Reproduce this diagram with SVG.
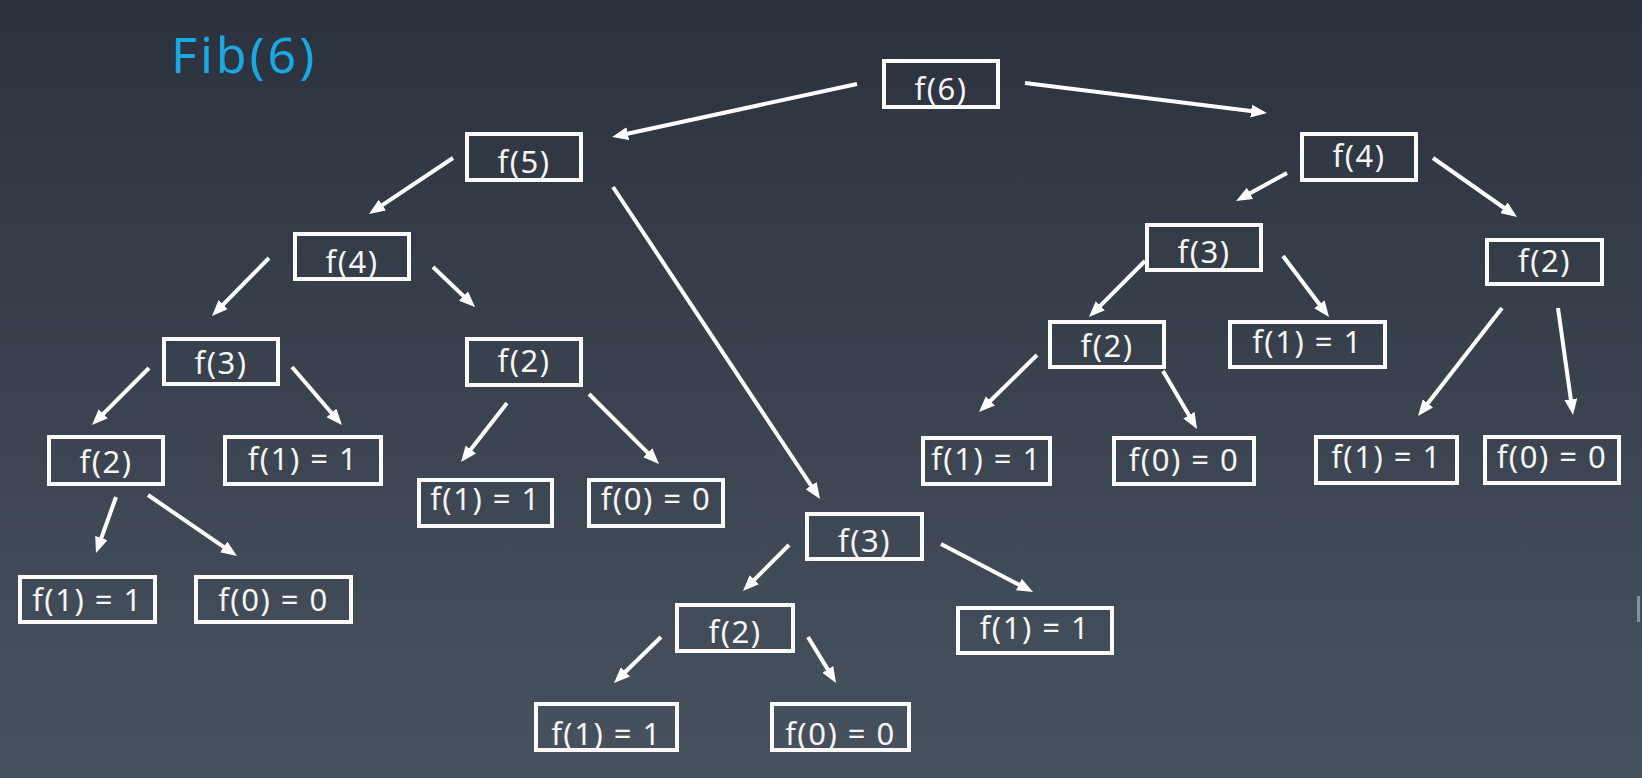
<svg xmlns="http://www.w3.org/2000/svg" width="1642" height="778" viewBox="0 0 1642 778">
  <defs>
    <linearGradient id="bg" x1="0" y1="0" x2="0" y2="1">
      <stop offset="0" stop-color="#2b323d"/>
      <stop offset="1" stop-color="#48525f"/>
    </linearGradient>
    <marker id="head" markerUnits="userSpaceOnUse" markerWidth="16" markerHeight="13" refX="10" refY="6.5" orient="auto">
      <path d="M0,0 L16,6.5 L0,13 z" fill="#ffffff"/>
    </marker>
  </defs>
  <style>
    .box { fill: none; stroke: #fbfbfb; stroke-width: 4; }
    .lbl { fill: #f4f4f4; font-family: "Noto Sans", "Open Sans", sans-serif; font-size: 31px; letter-spacing: 1.5px; text-anchor: middle; }
    .title { fill: #1aa8e0; font-family: "Noto Sans", "Open Sans", sans-serif; font-size: 50px; letter-spacing: 3px; }
    .edge { stroke: #ffffff; stroke-width: 4; fill: none; marker-end: url(#head); }
  </style>

  <rect x="0" y="0" width="1642" height="778" fill="url(#bg)"/>
  <rect x="1637" y="596" width="3" height="26" fill="#a9aeb5" opacity="0.7"/>

  <text class="title" x="171" y="73">Fib(6)</text>

  <!-- call edges -->
  <g id="edges">
    <line class="edge" x1="857" y1="84" x2="618" y2="135.7"/>
    <line class="edge" x1="1025" y1="83" x2="1261" y2="112.3"/>
    <line class="edge" x1="453" y1="158" x2="374" y2="210.7"/>
    <line class="edge" x1="613" y1="187" x2="816.7" y2="494"/>
    <line class="edge" x1="269" y1="258" x2="216.2" y2="311.7"/>
    <line class="edge" x1="433" y1="267" x2="470.7" y2="302.9"/>
    <line class="edge" x1="149" y1="368" x2="96.2" y2="420.8"/>
    <line class="edge" x1="292" y1="367" x2="338" y2="420.5"/>
    <line class="edge" x1="116" y1="497" x2="98" y2="547.4"/>
    <line class="edge" x1="148" y1="495" x2="232" y2="552.6"/>
    <line class="edge" x1="507" y1="403" x2="464.7" y2="457.3"/>
    <line class="edge" x1="589" y1="394" x2="654.8" y2="459.8"/>
    <line class="edge" x1="789" y1="545" x2="747.2" y2="586.8"/>
    <line class="edge" x1="941" y1="544" x2="1027.7" y2="589.2"/>
    <line class="edge" x1="661" y1="637" x2="618.3" y2="678.8"/>
    <line class="edge" x1="808" y1="637" x2="832.9" y2="677.9"/>
    <line class="edge" x1="1287" y1="173" x2="1241.3" y2="198.1"/>
    <line class="edge" x1="1433" y1="158" x2="1512.1" y2="213.5"/>
    <line class="edge" x1="1145" y1="261" x2="1093.2" y2="312.8"/>
    <line class="edge" x1="1283" y1="256" x2="1325.4" y2="312.2"/>
    <line class="edge" x1="1037" y1="355" x2="983.3" y2="407.8"/>
    <line class="edge" x1="1163" y1="371" x2="1194" y2="423.8"/>
    <line class="edge" x1="1502" y1="308" x2="1421.7" y2="411.3"/>
    <line class="edge" x1="1558" y1="308" x2="1572.2" y2="409.1"/>
  </g>

  <!-- call nodes -->
  <g id="n-f6"><rect class="box" x="884" y="61" width="114" height="46"/><text class="lbl" x="941" y="100">f(6)</text></g>
  <g id="n-f5"><rect class="box" x="467" y="134" width="114" height="46"/><text class="lbl" x="524" y="173">f(5)</text></g>
  <g id="n-f4-left"><rect class="box" x="295" y="234" width="114" height="45"/><text class="lbl" x="352" y="273">f(4)</text></g>
  <g id="n-f4-right"><rect class="box" x="1302" y="134" width="114" height="46"/><text class="lbl" x="1359" y="167">f(4)</text></g>
  <g id="n-f3-left"><rect class="box" x="164" y="339" width="114" height="45"/><text class="lbl" x="221" y="374">f(3)</text></g>
  <g id="n-f2-mid"><rect class="box" x="467" y="339" width="114" height="46"/><text class="lbl" x="524" y="372">f(2)</text></g>
  <g id="n-f3-right"><rect class="box" x="1147" y="225" width="114" height="45"/><text class="lbl" x="1204" y="263">f(3)</text></g>
  <g id="n-f2-far-right"><rect class="box" x="1487" y="240" width="115" height="44"/><text class="lbl" x="1544.5" y="272">f(2)</text></g>
  <g id="n-f2-left"><rect class="box" x="49" y="437" width="114" height="47"/><text class="lbl" x="106" y="473">f(2)</text></g>
  <g id="n-f1-left"><rect class="box" x="225" y="437" width="156" height="47"/><text class="lbl" x="303" y="470">f(1) = 1</text></g>
  <g id="n-f2-right"><rect class="box" x="1050" y="322" width="114" height="45"/><text class="lbl" x="1107" y="357">f(2)</text></g>
  <g id="n-f1-right"><rect class="box" x="1230" y="322" width="155" height="45"/><text class="lbl" x="1307.5" y="353">f(1) = 1</text></g>
  <g id="n-f1-r1"><rect class="box" x="923" y="438" width="127" height="46"/><text class="lbl" x="986.5" y="470">f(1) = 1</text></g>
  <g id="n-f0-r1"><rect class="box" x="1114" y="438" width="140" height="46"/><text class="lbl" x="1184" y="471">f(0) = 0</text></g>
  <g id="n-f1-r2"><rect class="box" x="1316" y="437" width="141" height="46"/><text class="lbl" x="1386.5" y="468">f(1) = 1</text></g>
  <g id="n-f0-r2"><rect class="box" x="1485" y="437" width="134" height="46"/><text class="lbl" x="1552" y="468">f(0) = 0</text></g>
  <g id="n-f1-mid"><rect class="box" x="419" y="480" width="133" height="46"/><text class="lbl" x="485.5" y="510">f(1) = 1</text></g>
  <g id="n-f0-mid"><rect class="box" x="589" y="480" width="134" height="46"/><text class="lbl" x="656" y="510">f(0) = 0</text></g>
  <g id="n-f3-bottom"><rect class="box" x="807" y="514" width="115" height="45"/><text class="lbl" x="864.5" y="552">f(3)</text></g>
  <g id="n-f2-bottom"><rect class="box" x="677" y="605" width="116" height="46"/><text class="lbl" x="735" y="643">f(2)</text></g>
  <g id="n-f1-bottom-right"><rect class="box" x="958" y="608" width="154" height="45"/><text class="lbl" x="1035" y="639">f(1) = 1</text></g>
  <g id="n-f1-bottom-left"><rect class="box" x="20" y="577" width="135" height="45"/><text class="lbl" x="87.5" y="611">f(1) = 1</text></g>
  <g id="n-f0-bottom-left"><rect class="box" x="196" y="577" width="155" height="45"/><text class="lbl" x="273.5" y="611">f(0) = 0</text></g>
  <g id="n-f1-bottom"><rect class="box" x="536" y="704" width="141" height="46"/><text class="lbl" x="606.5" y="745">f(1) = 1</text></g>
  <g id="n-f0-bottom"><rect class="box" x="772" y="704" width="137" height="46"/><text class="lbl" x="840.5" y="745">f(0) = 0</text></g>
</svg>
